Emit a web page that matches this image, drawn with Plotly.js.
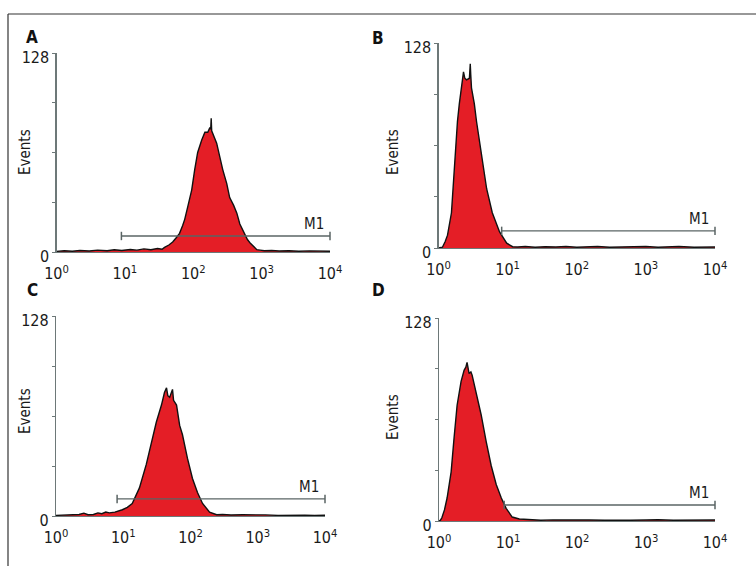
<!DOCTYPE html>
<html><head><meta charset="utf-8">
<script src="https://cdn.plot.ly/plotly-3.0.1.min.js"></script>
<style>html,body{margin:0;padding:0;background:#fff}#chart{width:756px;height:566px}</style>
</head><body><div id="chart"></div><script>
// ---- data ----
const panelLabels = ['A', 'B', 'C', 'D'];
const xTickVals = [1, 10, 100, 1000, 10000];
const xTickText = ['10<sup>0</sup>', '10<sup>1</sup>', '10<sup>2</sup>', '10<sup>3</sup>', '10<sup>4</sup>'];
const yTickVals = [0, 32, 64, 96, 128];
const yTickText = ['0', '', '', '', '128'];
const yTitle = 'Events';
const markerName = 'M1';

const aX = [1, 1.3, 1.7, 2.2, 3, 4, 5.5, 7, 9, 12, 15, 19, 24, 30, 35, 38, 44, 50, 56, 63, 70, 75, 83, 95, 105, 116, 133, 148, 163, 175, 180, 183, 186, 193, 220, 245, 270, 309, 341, 390, 434, 480, 512, 565, 620, 674, 760, 850, 950, 1100, 1400, 1800, 2500, 3500, 5000, 7000, 10000];
const aY = [0.4, 0.8, 0.5, 1, 0.6, 1.2, 0.8, 1.4, 1, 1.6, 1.2, 2, 1.5, 2.2, 1.8, 3, 4.5, 6.4, 9, 12, 17, 21, 29, 40, 53, 64, 72, 77, 77, 80, 79, 86, 78, 76.5, 70, 61, 53, 44, 35, 30, 25, 18, 15.4, 12, 8, 6, 3.5, 1.5, 1.2, 0.8, 1, 0.6, 0.8, 0.5, 0.7, 0.4, 0.5];

const bX = [1, 1.08, 1.14, 1.25, 1.35, 1.54, 1.7, 1.88, 2.0, 2.15, 2.3, 2.4, 2.55, 2.8, 2.88, 2.93, 3.0, 3.3, 3.55, 4.2, 4.97, 6.0, 7.65, 9.7, 11.8, 14, 18, 25, 35, 50, 70, 100, 150, 200, 300, 500, 700, 1000, 1500, 2000, 3000, 5000, 7000, 10000];
const bY = [0, 0.3, 0.5, 4, 8, 22, 52, 79, 90, 102, 110, 106, 105, 106, 115, 108, 100, 90, 79, 58, 37, 22, 10, 3, 0.8, 0.6, 0.9, 0.5, 0.8, 0.6, 0.9, 0.5, 0.7, 0.9, 0.5, 0.8, 0.6, 0.9, 0.5, 0.7, 0.9, 0.5, 0.7, 0.6];

const cX = [1, 1.3, 1.7, 2.2, 2.6, 3, 3.6, 4.2, 4.8, 5.5, 6.2, 7.5, 9.7, 11.5, 13.6, 17.4, 22, 26, 31, 37, 41, 44, 46, 49, 52, 54, 56, 62, 69, 76, 90, 107, 127, 151, 192, 245, 300, 400, 600, 900, 1300, 2000, 3000, 5000, 7000, 10000];
const cY = [0.4, 0.6, 0.5, 1, 1.8, 0.8, 1, 2, 1.5, 2.5, 2, 2.5, 4, 5.5, 8, 18, 33, 47, 60, 71, 79, 82, 77, 76, 80, 81, 74, 71, 58, 52, 37, 24, 15, 8, 2.5, 0.8, 1, 0.6, 0.8, 0.5, 0.7, 0.4, 0.6, 0.5, 0.4, 0.5];

const dX = [1, 1.05, 1.1, 1.2, 1.31, 1.5, 1.65, 1.83, 2.09, 2.31, 2.45, 2.55, 2.73, 2.9, 3.02, 3.45, 4.08, 4.83, 5.7, 6.75, 8.0, 9.4, 11.5, 14.6, 18, 22, 30, 45, 70, 100, 150, 250, 400, 600, 1000, 1500, 2500, 4000, 6000, 10000];
const dY = [0, 0.5, 2, 7, 14.5, 31, 52, 73, 88, 95, 97, 100, 93, 94, 92, 81, 67, 50, 35, 23, 14.5, 8, 2.5, 1.3, 1, 0.7, 0.5, 0.7, 0.5, 0.8, 0.6, 0.5, 0.7, 0.5, 0.6, 0.8, 0.5, 0.6, 0.5, 0.6];

const m1Start = [8.9, 8.2, 8.1, 8.8];
const m1End = [10000, 10000, 10000, 10000];
const m1Level = [10.3, 10.7, 10.9, 10.1];

// ---- layout helpers (pixel boxes of each plot area) ----
const W = 756, H = 566;
const boxes = [
  {x0: 56.5, x1: 330, y0: 53, y1: 252},
  {x0: 438.5, x1: 715, y0: 43, y1: 248},
  {x0: 56, x1: 325, y0: 316, y1: 516},
  {x0: 439, x1: 715, y0: 318, y1: 521}
];
const labelPos = [[32, 37], [378, 38], [32, 290], [378, 290]];
const titlePos = [[25, 152], [393, 152], [25, 411], [393, 417]];

const FONT = '"Liberation Sans Narrow", "Arial Narrow", "DejaVu Sans Condensed", sans-serif';
const AXIS_COLOR = '#6d7878';
const RED = '#e41e26';

const xs = [aX, bX, cX, dX];
const ys = [aY, bY, cY, dY];

const traces = [];
const layout = {
  width: W, height: H,
  margin: {l: 0, r: 0, t: 0, b: 0},
  paper_bgcolor: '#fff', plot_bgcolor: 'rgba(0,0,0,0)',
  showlegend: false,
  font: {family: FONT, color: '#1a1a1a'},
  annotations: [],
  shapes: [
    {type: 'line', xref: 'paper', yref: 'paper', x0: 8 / W, x1: 1, y0: 1 - 14 / H, y1: 1 - 14 / H, line: {color: '#333', width: 1.2}},
    {type: 'line', xref: 'paper', yref: 'paper', x0: 8 / W, x1: 8 / W, y0: 1 - 14 / H, y1: 0, line: {color: '#333', width: 1.2}}
  ]
};

for (let i = 0; i < 4; i++) {
  const sfx = i === 0 ? '' : String(i + 1);
  const xa = 'x' + sfx, ya = 'y' + sfx;
  const b = boxes[i];
  layout['xaxis' + sfx] = {
    type: 'log', range: [0, 4], domain: [b.x0 / W, b.x1 / W], anchor: ya,
    showline: true, linecolor: AXIS_COLOR, linewidth: 1.2,
    tickmode: 'array', tickvals: xTickVals, ticktext: xTickText,
    ticks: 'outside', ticklen: 7, tickcolor: 'rgba(0,0,0,0)',
    tickfont: {family: FONT, size: 16, color: '#1a1a1a'},
    showgrid: false, zeroline: false, fixedrange: true
  };
  layout['yaxis' + sfx] = {
    range: [0, 128], domain: [1 - b.y1 / H, 1 - b.y0 / H], anchor: xa,
    showline: true, linecolor: AXIS_COLOR, linewidth: 1.2,
    tickmode: 'array', tickvals: yTickVals, ticktext: yTickText,
    ticks: 'outside', ticklen: 3, tickcolor: AXIS_COLOR, tickwidth: 1,
    ticklabelshift: 4,
    tickfont: {family: FONT, size: 16, color: '#1a1a1a'},
    showgrid: false, zeroline: false, fixedrange: true
  };
  traces.push({
    type: 'scatter', mode: 'lines', x: xs[i], y: ys[i], xaxis: xa, yaxis: ya,
    fill: 'tozeroy', fillcolor: RED, line: {color: '#111', width: 1.4},
    hoverinfo: 'skip'
  });
  traces.push({
    type: 'scatter', mode: 'lines+markers', x: [m1Start[i], m1End[i]], y: [m1Level[i], m1Level[i]],
    xaxis: xa, yaxis: ya, cliponaxis: false,
    line: {color: '#5a6464', width: 1.3},
    marker: {symbol: 'line-ns-open', size: 6, line: {color: '#5a6464', width: 1.5}},
    hoverinfo: 'skip'
  });
  layout.annotations.push({
    xref: xa, yref: ya, x: 4, y: m1Level[i], text: markerName, showarrow: false,
    xanchor: 'right', yanchor: 'bottom', xshift: -4, yshift: 1,
    font: {family: FONT, size: 15, color: '#1a1a1a'}
  });
  layout.annotations.push({
    xref: 'paper', yref: 'paper', x: labelPos[i][0] / W, y: 1 - labelPos[i][1] / H,
    text: '<b>' + panelLabels[i] + '</b>', showarrow: false, xanchor: 'center', yanchor: 'middle',
    font: {family: FONT, size: 17, color: '#111'}
  });
  layout.annotations.push({
    xref: 'paper', yref: 'paper', x: titlePos[i][0] / W, y: 1 - titlePos[i][1] / H,
    text: yTitle, textangle: -90, showarrow: false, xanchor: 'center', yanchor: 'middle',
    font: {family: FONT, size: 15, color: '#1a1a1a'}
  });
}

Plotly.newPlot('chart', traces, layout, {staticPlot: true, displayModeBar: false});
</script></body></html>
